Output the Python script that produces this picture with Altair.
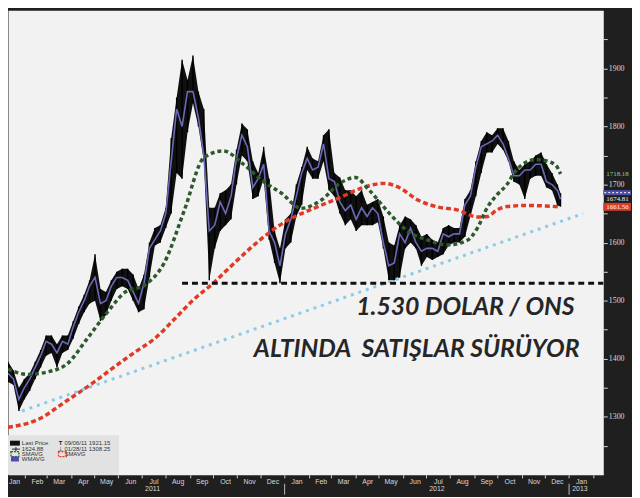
import altair as alt
import pandas as pd

# ---------------- data ----------------
week_start = "2011-01-10"   # weekly ranges, 7 days apart
price_low = [1360, 1355, 1310, 1330, 1345, 1365, 1385, 1405, 1410, 1385,
             1410, 1415, 1435, 1460, 1480, 1495, 1500, 1465, 1475, 1500,
             1520, 1525, 1520, 1500, 1480, 1485, 1540, 1595, 1600, 1625,
             1650, 1720, 1710, 1790, 1840, 1800, 1740, 1535, 1590, 1620,
             1630, 1640, 1700, 1750, 1740, 1675, 1680, 1710, 1605, 1565,
             1530, 1590, 1600, 1645, 1665, 1725, 1710, 1710, 1740, 1690,
             1680, 1650, 1630, 1640, 1620, 1630, 1630, 1630, 1635, 1590,
             1535, 1535, 1540, 1590, 1600, 1590, 1560, 1575, 1570, 1575,
             1580, 1595, 1600, 1600, 1610, 1645, 1680, 1720, 1755, 1755,
             1770, 1760, 1740, 1705, 1700, 1675, 1710, 1715, 1715, 1695,
             1690, 1664]
price_high = [1395, 1380, 1350, 1365, 1375, 1395, 1415, 1440, 1440, 1425,
              1440, 1440, 1465, 1490, 1510, 1535, 1580, 1520, 1515, 1535,
              1550, 1555, 1555, 1545, 1520, 1545, 1600, 1625, 1630, 1660,
              1780, 1850, 1915, 1880, 1922, 1860, 1830, 1660, 1660, 1685,
              1690, 1700, 1760, 1805, 1795, 1740, 1720, 1765, 1710, 1620,
              1590, 1640, 1650, 1700, 1730, 1765, 1745, 1740, 1785, 1795,
              1720, 1712, 1690, 1690, 1680, 1690, 1665, 1670, 1675, 1645,
              1600, 1595, 1630, 1645, 1640, 1630, 1610, 1615, 1605, 1600,
              1625, 1630, 1625, 1625, 1675, 1690, 1740, 1775, 1790, 1785,
              1797, 1797, 1775, 1740, 1725, 1735, 1740, 1750, 1755, 1735,
              1720, 1700]
price_close = [1375, 1365, 1330, 1350, 1365, 1385, 1405, 1430, 1425, 1410,
               1430, 1425, 1455, 1480, 1500, 1525, 1540, 1495, 1500, 1525,
               1540, 1540, 1535, 1515, 1495, 1530, 1590, 1605, 1620, 1650,
               1740, 1830, 1800, 1860, 1860, 1815, 1750, 1620, 1630, 1670,
               1650, 1680, 1745, 1785, 1765, 1695, 1710, 1735, 1620, 1600,
               1560, 1615, 1640, 1680, 1720, 1745, 1725, 1730, 1770, 1710,
               1705, 1670, 1655, 1665, 1640, 1660, 1645, 1660, 1650, 1600,
               1560, 1565, 1615, 1600, 1625, 1600, 1585, 1590, 1590, 1585,
               1615, 1610, 1615, 1615, 1665, 1680, 1730, 1765, 1770, 1775,
               1785, 1770, 1745, 1715, 1715, 1725, 1725, 1735, 1735, 1705,
               1700, 1690]
last_date, last_low, last_high, last_close = "2012-12-21", 1662, 1685, 1674.81

green_dates = ["2011-01-10", "2011-02-04", "2011-03-01", "2011-03-27", "2011-04-21",
               "2011-05-16", "2011-06-10", "2011-07-05", "2011-07-30", "2011-08-25",
               "2011-09-19", "2011-10-14", "2011-11-08", "2011-12-03", "2011-12-28",
               "2012-01-22", "2012-02-17", "2012-03-13", "2012-04-01", "2012-04-19",
               "2012-05-15", "2012-06-09", "2012-07-04", "2012-07-29", "2012-08-23",
               "2012-09-05", "2012-09-18", "2012-09-30", "2012-10-13", "2012-10-25",
               "2012-11-19", "2012-12-02", "2012-12-15", "2012-12-21"]
green_vals = [1382, 1373, 1377, 1391, 1433, 1477, 1515, 1527, 1565, 1656,
              1746, 1758, 1736, 1707, 1685, 1659, 1673, 1703, 1712, 1690,
              1650, 1618, 1604, 1596, 1604, 1625, 1661, 1682, 1700, 1725,
              1743, 1741, 1733, 1718.18]

red_dates = ["2011-01-10", "2011-02-17", "2011-03-27", "2011-05-03", "2011-05-29",
             "2011-06-23", "2011-07-18", "2011-08-12", "2011-09-06", "2011-10-01",
             "2011-10-26", "2011-11-21", "2011-12-16", "2012-01-10", "2012-02-04",
             "2012-03-13", "2012-04-07", "2012-05-08", "2012-05-27", "2012-06-21",
             "2012-07-17", "2012-08-11", "2012-09-05", "2012-09-18", "2012-09-30",
             "2012-10-13", "2012-11-07", "2012-12-02", "2012-12-21"]
red_vals = [1282, 1295, 1328, 1362, 1388, 1412, 1435, 1468, 1502, 1530,
            1562, 1594, 1621, 1642, 1657, 1678, 1693, 1702, 1695, 1673,
            1661, 1656, 1644, 1645, 1656, 1662, 1664, 1663, 1661.56]

trend_dates = ["2011-01-28", "2013-01-19"]
trend_vals = [1310, 1650]

support_dates = ["2011-08-22", "2013-02-14"]
support_vals = [1530, 1530]

y_ticks = [1250, 1300, 1350, 1400, 1450, 1500, 1550, 1600, 1650, 1700, 1750, 1800, 1850, 1900, 1950]
first_month_label = "Jan"
year_labels = ["2011", "2012", "2013"]
year_label_dates = ["2011-07-15", "2012-07-15", "2013-01-15"]
year_sep_dates = ["2012-01-01", "2013-01-01"]

callout_vals = [1718.18, 1674.81]
callout_text = ["1718.18", "1674.81"]
red_callout_val, red_callout_text = 1661.56, "1661.56"
wmavg_callout_val = 1686

title_lines = ["1.530 DOLAR / ONS", "ALTINDA\u00a0\u00a0SATIŞLAR SÜRÜYOR"]
legend_left = ["Last Price", "1624.88", "SMAVG", "WMAVG"]
legend_right = ["09/06/11 1921.15", "01/28/11 1308.25", "SMAVG"]

# ---------------- tables ----------------
price = pd.DataFrame({
    "date": pd.date_range(week_start, periods=len(price_low), freq="7D"),
    "low": price_low, "high": price_high, "close": price_close})
price = pd.concat([price, pd.DataFrame({"date": [pd.Timestamp(last_date)], "low": [last_low],
                                        "high": [last_high], "close": [last_close]})],
                  ignore_index=True)
green = pd.DataFrame({"date": pd.to_datetime(green_dates), "v": green_vals})
red = pd.DataFrame({"date": pd.to_datetime(red_dates), "v": red_vals})
trend = pd.DataFrame({"date": pd.to_datetime(trend_dates), "v": trend_vals})
support = pd.DataFrame({"date": pd.to_datetime(support_dates), "v": support_vals})
years = pd.DataFrame({"date": pd.to_datetime(year_label_dates), "t": year_labels})
seps = pd.DataFrame({"date": pd.to_datetime(year_sep_dates)})
callouts = pd.DataFrame({"v": callout_vals, "t": callout_text})
one = pd.DataFrame({"k": [0]})

W, H = 601, 469

month_ticks = [alt.DateTime(year=y, month=m, date=1)
               for y in (2011, 2012, 2013) for m in range(1, 13)
               if not (y == 2013 and m > 2)]
x_scale = alt.Scale(domain=[alt.DateTime(year=2011, month=1, date=10),
                            alt.DateTime(year=2013, month=2, date=14)])
x_axis = alt.Axis(values=month_ticks, format="%b", labelOffset=12, tickSize=3,
                  tickColor="#d8d8d8", labelColor="#d8d8d8", labelFontSize=7,
                  labelFont="Liberation Sans", labelPadding=0, domain=False, grid=False,
                  title=None, labelFlush=False, labelOverlap=False,
                  labelExpr="(year(datum.value)==2013 && month(datum.value)==1) ? '' : datum.label")
y_scale = alt.Scale(domain=[1200, 2000], nice=False, zero=False)
y_axis = alt.Axis(orient="right", values=y_ticks, format="d", tickSize=4,
                  tickColor="#d8d8d8", labelColor="#d8d8d8", labelFontSize=8,
                  labelFont="Liberation Serif", labelPadding=1, domain=False, grid=False,
                  title=None,
                  labelExpr="datum.value % 100 == 0 ? datum.label : ''")


def X(f):
    return alt.X(f, type="temporal", scale=x_scale, axis=x_axis)


def Y(f):
    return alt.Y(f, type="quantitative", scale=y_scale, axis=y_axis)


def box(x1, x2, y1, y2, **kw):
    return alt.Chart(one).mark_rect(**kw).encode(
        x=alt.value(x1), x2=alt.value(x2), y=alt.value(y1), y2=alt.value(y2))


def label(txt, x, y, **kw):
    return alt.Chart(one).mark_text(text=txt, **kw).encode(x=alt.value(x), y=alt.value(y))


band = alt.Chart(price).mark_area(color="#101010").encode(x=X("date"), y=Y("low"), y2=alt.Y2("high"))
bars = alt.Chart(price).mark_rule(color="#000000", strokeWidth=1.4).encode(
    x=X("date"), y=Y("low"), y2=alt.Y2("high"))
close_line = alt.Chart(price).mark_line(color="#6a6ab8", strokeWidth=1.6).encode(x=X("date"), y=Y("close"))
trend_line = alt.Chart(trend).mark_line(color="#8ccbe8", strokeWidth=3, strokeDash=[3, 5]).encode(
    x=X("date"), y=Y("v"))
red_line = alt.Chart(red).mark_line(color="#e03a26", strokeWidth=3.5, strokeDash=[5, 3],
                                    interpolate="monotone").encode(x=X("date"), y=Y("v"))
green_line = alt.Chart(green).mark_line(color="#2c5a2c", strokeWidth=3.5, strokeDash=[4, 3],
                                        interpolate="monotone").encode(x=X("date"), y=Y("v"))
support_line = alt.Chart(support).mark_line(color="#111111", strokeWidth=3, strokeDash=[6, 4]).encode(
    x=X("date"), y=Y("v"))

title1 = label(title_lines[0], 572, 300, align="right", baseline="middle", font="Lato",
               fontSize=25, fontWeight="bold", fontStyle="italic", color="#262626")
title2 = label(title_lines[1], 577, 342, align="right", baseline="middle", font="Lato",
               fontSize=25, fontWeight="bold", fontStyle="italic", color="#262626")

# legend box (bottom-left)
leg_rows = [437, 443, 448, 453]
leg = [box(0, 112, 429, 469, color="#e2e2e2"),
       box(2, 12, leg_rows[0] - 2.5, leg_rows[0] + 2.5, color="#111111"),
       alt.Chart(one).mark_rule(color="#222", strokeWidth=1).encode(
           x=alt.value(4), x2=alt.value(12), y=alt.value(leg_rows[1])),
       alt.Chart(one).mark_rule(color="#222", strokeWidth=1).encode(
           x=alt.value(8), y=alt.value(leg_rows[1] - 2), y2=alt.value(leg_rows[1] + 2)),
       box(3, 11, leg_rows[2] - 2.5, leg_rows[2] + 2.5, fill="transparent", stroke="#2c5a2c",
           strokeWidth=1.2, strokeDash=[2, 1]),
       box(3, 11, leg_rows[3] - 2.5, leg_rows[3] + 2.5, color="#4a4ab0"),
       box(51, 59, leg_rows[2] - 2.5, leg_rows[2] + 2.5, fill="transparent", stroke="#e03a26",
           strokeWidth=1.2, strokeDash=[2, 1]),
       label("T", 53, leg_rows[0], fontSize=6, font="Liberation Sans", fontWeight="bold", color="#222"),
       label("⊥", 53, leg_rows[1], fontSize=6, font="DejaVu Sans", color="#222")]
for t, yy in zip(legend_left, leg_rows):
    leg.append(label(t, 14, yy, align="left", baseline="middle", fontSize=6,
                     font="Liberation Sans", color="#333"))
for t, yy in zip(legend_right, leg_rows):
    leg.append(label(t, 57, yy, align="left", baseline="middle", fontSize=6,
                     font="Liberation Sans", color="#333"))

# right axis callouts
wm_box = alt.Chart(pd.DataFrame({"v": [wmavg_callout_val]})).mark_rule(
    color="#4e4ea8", strokeWidth=5).encode(x=alt.value(W), x2=alt.value(W + 28), y=Y("v"))
wm_dash = alt.Chart(pd.DataFrame({"v": [wmavg_callout_val]})).mark_rule(
    color="#ffffff", strokeWidth=1, strokeDash=[2, 2]).encode(x=alt.value(W + 1), x2=alt.value(W + 27), y=Y("v"))
red_box = alt.Chart(pd.DataFrame({"v": [red_callout_val]})).mark_rule(
    color="#d83a2a", strokeWidth=8).encode(x=alt.value(W), x2=alt.value(W + 28), y=Y("v"))
red_txt = alt.Chart(pd.DataFrame({"v": [red_callout_val], "t": [red_callout_text]})).mark_text(
    align="left", baseline="middle", fontSize=7, font="Liberation Serif", color="#ffffff").encode(
    x=alt.value(W + 3), y=Y("v"), text="t:N")
call_txt = alt.Chart(callouts).mark_text(
    align="left", baseline="middle", fontSize=7, font="Liberation Serif").encode(
    x=alt.value(W + 3), y=Y("v"), text="t:N",
    color=alt.Color("t:N", scale=alt.Scale(domain=callout_text, range=["#8fd08f", "#f0f0f0"]), legend=None))

# bottom axis: first month label, years and separators
jan_txt = label(first_month_label, 1, H + 3, align="left", baseline="top", fontSize=7,
                font="Liberation Sans", color="#d8d8d8")
year_txt = alt.Chart(years).mark_text(fontSize=7, font="Liberation Sans", color="#d8d8d8",
                                      baseline="middle").encode(x=X("date"), y=alt.value(H + 14), text="t:N")
year_sep = alt.Chart(seps).mark_rule(color="#bdbdbd", strokeWidth=1).encode(
    x=X("date"), y=alt.value(H + 9), y2=alt.value(H + 20))

chart = alt.layer(
    band, bars, close_line, trend_line, red_line, green_line, support_line,
    title1, title2, *leg, wm_box, wm_dash, red_box, red_txt, call_txt, jan_txt, year_txt, year_sep
).properties(
    width=W, height=H,
    autosize=alt.AutoSizeParams(type="none"),
    padding={"left": 0, "top": 0, "right": 29, "bottom": 20},
    background="#1f1f1f",
).configure_view(fill="#f2f2f2", stroke="transparent")

chart.save("out.html", embed_options={"renderer": "svg", "actions": False})
